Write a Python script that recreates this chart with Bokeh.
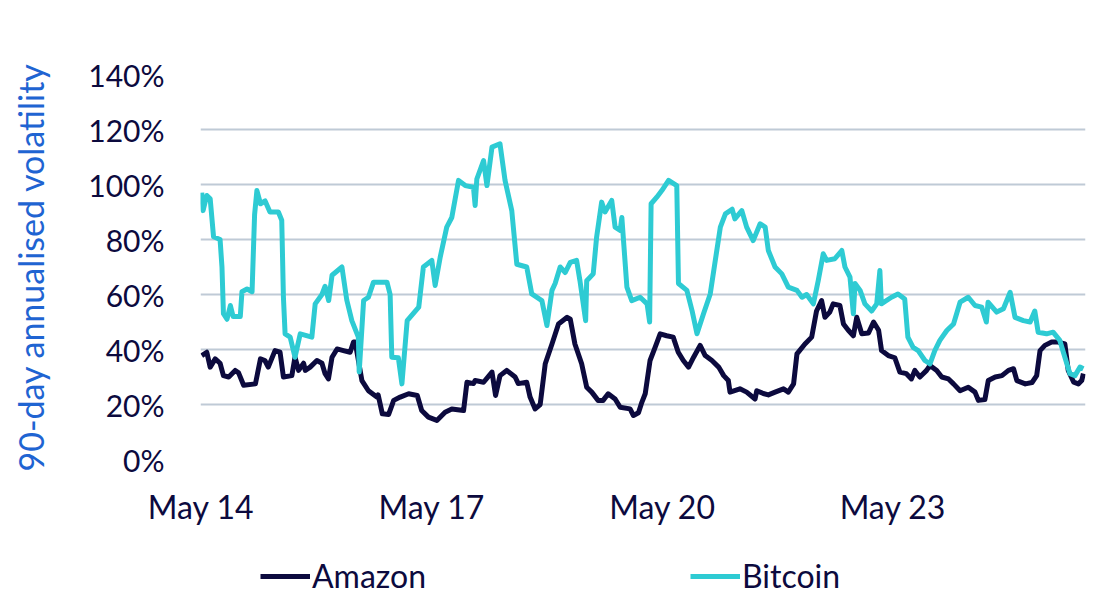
import pandas as pd
from datetime import datetime
from bokeh.plotting import figure
from bokeh.layouts import column
from bokeh.embed import file_html
from bokeh.resources import INLINE
from bokeh.models import ColumnDataSource, Range1d, FixedTicker, SingleIntervalTicker, \
    DatetimeTickFormatter, PrintfTickFormatter, Legend, LegendItem


# 90-day annualised volatility (%)
amazon_dates = [
    '2014-05-04', '2014-05-28', '2014-06-13', '2014-07-07', '2014-07-30', '2014-08-15', '2014-09-09',
    '2014-10-10', '2014-10-26', '2014-11-19', '2015-01-14', '2015-02-07', '2015-02-28', '2015-03-16',
    '2015-04-17', '2015-05-11', '2015-05-27', '2015-07-06', '2015-07-21', '2015-08-07', '2015-08-31',
    '2015-09-08', '2015-10-01', '2015-11-02', '2015-11-26', '2015-12-11', '2015-12-27', '2016-01-13',
    '2016-02-06', '2016-03-07', '2016-04-08', '2016-04-24', '2016-05-02', '2016-06-03', '2016-07-04',
    '2016-08-13', '2016-08-19', '2016-09-08', '2016-10-08', '2016-11-01', '2016-12-02', '2017-01-11',
    '2017-02-21', '2017-03-14', '2017-04-15', '2017-05-25', '2017-07-03', '2017-08-04', '2017-09-29',
    '2017-10-15', '2017-11-15', '2017-11-23', '2018-01-02', '2018-02-11', '2018-02-28', '2018-03-21',
    '2018-04-22', '2018-06-01', '2018-06-16', '2018-07-26', '2018-08-11', '2018-09-04', '2018-09-28',
    '2018-10-22', '2018-11-23', '2018-12-24', '2019-02-03', '2019-02-18', '2019-03-12', '2019-04-13',
    '2019-05-07', '2019-05-31', '2019-06-30', '2019-07-24', '2019-08-17', '2019-09-19', '2019-10-13',
    '2019-11-29', '2019-12-15', '2020-01-08', '2020-01-24', '2020-02-09', '2020-03-03', '2020-03-27',
    '2020-04-20', '2020-05-21', '2020-06-21', '2020-07-15', '2020-08-08', '2020-09-02', '2020-09-26',
    '2020-10-27', '2020-11-20', '2020-12-22', '2021-01-23', '2021-02-16', '2021-03-10', '2021-03-18',
    '2021-05-04', '2021-06-05', '2021-07-15', '2021-07-23', '2021-08-23', '2021-09-16', '2021-10-18',
    '2021-11-27', '2021-12-20', '2022-01-14', '2022-01-30', '2022-03-09', '2022-04-10', '2022-05-03',
    '2022-05-27', '2022-06-12', '2022-07-05', '2022-07-21', '2022-08-22', '2022-09-08', '2022-10-01',
    '2022-10-25', '2022-11-10', '2022-12-04', '2023-01-05', '2023-01-29', '2023-02-22', '2023-03-08',
    '2023-04-09', '2023-05-10', '2023-06-03', '2023-07-04', '2023-07-28', '2023-08-13', '2023-09-06',
    '2023-10-08', '2023-10-24', '2023-11-25', '2023-12-19', '2024-01-20', '2024-02-13', '2024-03-15',
    '2024-04-23', '2024-05-25', '2024-06-10', '2024-07-11', '2024-07-27', '2024-08-29', '2024-09-30',
    '2024-10-31', '2024-11-24', '2024-12-10', '2025-01-19', '2025-02-20', '2025-03-14', '2025-03-30',
    '2025-04-22', '2025-05-24', '2025-06-24', '2025-07-26', '2025-08-11', '2025-09-06', '2025-09-28',
    '2025-10-14', '2025-10-22']
amazon_vol = [
    37.8, 39, 33.6, 36.6, 35, 30.5, 30,
    32.4, 31.5, 27, 27.5, 36.6, 36, 33.6,
    39.6, 39, 30, 30.5, 37.2, 32.4, 35,
    32.4, 33.6, 36, 35, 31.2, 29.3, 37.2,
    40.2, 39.6, 39, 42.7, 42.7, 28.7, 25,
    22.7, 23.5, 16.6, 16.4, 21.5, 22.7, 23.9,
    23.3, 17.8, 15.4, 14.2, 17.2, 18.4, 17.8,
    28.1, 27.6, 28.7, 28.1, 31.8, 23.3, 30.5,
    32.4, 30, 27.6, 28.1, 22.7, 18.4, 20,
    34.8, 42, 49.3, 51.7, 51, 42, 34.8,
    26.3, 24.5, 21.5, 21.5, 23.9, 22, 19,
    18.4, 16, 17, 20.8, 23.9, 36, 40.8,
    45.7, 45, 44.5, 39, 36, 33.6, 37.2,
    41.5, 37.8, 36, 33.6, 30.5, 28.7, 24.5,
    25.7, 24.5, 22, 25, 24, 23.5, 24.5,
    25.7, 24.5, 27.5, 38.4, 42, 44.5, 54,
    57.8, 51.7, 53.6, 56.6, 56, 49.3, 47,
    45, 51.7, 45.7, 46, 50, 47, 39.6,
    37.8, 37, 31.8, 31.2, 29.3, 32.4, 30,
    32.4, 34.2, 32.4, 30, 29.3, 27.5, 25,
    26.3, 24.5, 21.5, 21.8, 28.7, 30, 30.5,
    32.4, 33, 28.7, 27.5, 28, 30.5, 39.6,
    41.5, 42.7, 42.7, 42, 32.4, 28.1, 27.5,
    28.7, 31.2]

bitcoin_dates = [
    '2014-05-04', '2014-05-10', '2014-05-28', '2014-06-13', '2014-06-29', '2014-07-30', '2014-08-08',
    '2014-08-15', '2014-09-01', '2014-09-17', '2014-09-30', '2014-11-03', '2014-11-11', '2014-12-05',
    '2014-12-29', '2015-01-10', '2015-01-21', '2015-02-07', '2015-03-01', '2015-03-24', '2015-05-03',
    '2015-05-19', '2015-05-27', '2015-06-04', '2015-06-28', '2015-07-21', '2015-08-15', '2015-10-09',
    '2015-10-25', '2015-11-26', '2015-12-11', '2015-12-28', '2016-01-13', '2016-02-29', '2016-03-23',
    '2016-04-16', '2016-05-17', '2016-05-21', '2016-06-11', '2016-07-04', '2016-07-28', '2016-09-30',
    '2016-10-15', '2016-10-23', '2016-11-23', '2016-12-10', '2017-01-04', '2017-02-28', '2017-03-22',
    '2017-05-01', '2017-05-17', '2017-06-10', '2017-07-11', '2017-08-04', '2017-09-05', '2017-10-07',
    '2017-11-15', '2017-11-23', '2017-12-01', '2018-01-02', '2018-01-18', '2018-02-11', '2018-03-21',
    '2018-04-14', '2018-05-16', '2018-06-09', '2018-07-26', '2018-08-19', '2018-10-06', '2018-10-30',
    '2018-11-23', '2018-12-08', '2019-01-01', '2019-01-25', '2019-02-18', '2019-03-20', '2019-04-05',
    '2019-05-02', '2019-05-07', '2019-06-07', '2019-06-23', '2019-07-17', '2019-08-02', '2019-09-03',
    '2019-09-19', '2019-10-13', '2019-10-21', '2019-11-14', '2019-12-07', '2020-01-16', '2020-02-18',
    '2020-03-01', '2020-03-08', '2020-04-04', '2020-04-28', '2020-05-30', '2020-07-08', '2020-07-16',
    '2020-08-25', '2020-09-19', '2020-10-12', '2020-11-12', '2020-12-14', '2021-01-07', '2021-01-31',
    '2021-02-24', '2021-03-28', '2021-04-10', '2021-05-13', '2021-06-05', '2021-07-06', '2021-08-08',
    '2021-09-01', '2021-09-16', '2021-10-18', '2021-11-19', '2021-12-20', '2022-01-30', '2022-02-23',
    '2022-03-17', '2022-04-18', '2022-05-11', '2022-06-04', '2022-06-20', '2022-07-29', '2022-08-31',
    '2022-09-15', '2022-10-09', '2022-10-25', '2022-11-02', '2022-11-26', '2022-12-19', '2023-01-20',
    '2023-02-13', '2023-02-28', '2023-03-07', '2023-04-24', '2023-05-25', '2023-06-26', '2023-07-11',
    '2023-08-05', '2023-08-29', '2023-09-30', '2023-10-24', '2023-11-16', '2023-12-10', '2024-01-12',
    '2024-02-13', '2024-03-15', '2024-04-23', '2024-05-25', '2024-06-26', '2024-07-18', '2024-07-26',
    '2024-09-05', '2024-10-07', '2024-11-08', '2024-12-01', '2025-01-10', '2025-02-11', '2025-03-05',
    '2025-03-21', '2025-04-30', '2025-05-31', '2025-07-02', '2025-07-26', '2025-08-19', '2025-09-12',
    '2025-10-06', '2025-10-22']
bitcoin_vol = [
    97, 90.5, 96, 94.8, 81, 80, 70,
    53, 51, 56, 52, 52, 61, 62,
    61, 89, 97.8, 93, 94, 90, 90,
    87, 59, 45.7, 44.5, 37.2, 45.7, 44.5,
    56.6, 60, 63, 57.8, 67, 70, 58,
    50.5, 44.5, 31.8, 57.8, 59, 64.5, 64.5,
    60, 37.2, 37, 27.5, 50.5, 55.4, 70,
    72.4, 63.3, 73.6, 84.5, 88, 101.5, 99.6,
    99, 92.4, 102, 108.7, 99.6, 113.6, 114.8,
    101.5, 90.5, 71, 70, 60.2, 57.8, 48.7,
    61.5, 64, 70, 68, 71.7, 72.4, 65,
    50.5, 65, 67.5, 80.8, 93.6, 90, 94.2,
    84.5, 83.3, 88, 62.7, 57.8, 59, 56.6,
    50, 93, 95.4, 97.8, 101.5, 99.6, 64,
    61.5, 54, 45.7, 53, 60.2, 72.4, 84.5,
    89.3, 91, 87.5, 90.5, 84.5, 79.6, 85.7,
    84.5, 76, 70, 67.5, 62.7, 61.5, 59,
    60, 56.6, 65, 74.8, 72.4, 73, 76,
    70, 66.3, 53, 64, 61.5, 56.6, 54,
    56.6, 68.7, 56.6, 59, 60.2, 58.4, 44.5,
    40.8, 39.6, 36, 34.8, 39.6, 43.3, 46.9,
    49.3, 57.2, 59, 56, 55.4, 50, 57.2,
    53.6, 54.8, 60.8, 51.7, 50.5, 50, 54,
    46.3, 45.7, 46.3, 43.3, 37.2, 31.2, 30.5,
    33.6, 33]

x_ticks = ['2014-05-01', '2017-05-01', '2020-05-01', '2023-05-01']

navy = '#0c0a3e'
cyan = '#2ecbd3'
font = 'Lato'

amazon = ColumnDataSource(data=dict(date=pd.to_datetime(amazon_dates), vol=amazon_vol))
bitcoin = ColumnDataSource(data=dict(date=pd.to_datetime(bitcoin_dates), vol=bitcoin_vol))

p = figure(width=1092, height=540,
           x_axis_type='datetime',
           x_range=Range1d(datetime(2014, 4, 28), datetime(2025, 11, 1)),
           y_range=Range1d(0, 140),
           toolbar_location=None,
           min_border_left=200, min_border_right=7,
           min_border_top=74, min_border_bottom=81)
p.output_backend = 'svg'
p.outline_line_color = None

p.xgrid.grid_line_color = None
p.ygrid.grid_line_color = '#bfcad6'
p.ygrid.grid_line_width = 2
p.ygrid.ticker = SingleIntervalTicker(interval=20)

p.yaxis.ticker = SingleIntervalTicker(interval=20)
p.yaxis.formatter = PrintfTickFormatter(format='%d%%')
p.yaxis.axis_label = '90-day annualised volatility'
p.yaxis.axis_label_text_color = '#1f64d2'
p.yaxis.axis_label_text_font = font
p.yaxis.axis_label_text_font_style = 'normal'
p.yaxis.axis_label_text_font_size = '34px'
p.yaxis.axis_label_standoff = 34
p.yaxis.major_label_standoff = 36
p.yaxis.major_label_text_font_size = '30px'

p.xaxis.ticker = FixedTicker(ticks=[pd.Timestamp(t).value // 10**6 for t in x_ticks])
p.xaxis.formatter = DatetimeTickFormatter(years='%b %y', months='%b %y', days='%b %y',
                                          hours='%b %y', minutes='%b %y')
p.xaxis.major_label_standoff = 27
p.xaxis.major_label_text_font_size = '32px'

for ax in (p.xaxis, p.yaxis):
    ax.axis_line_color = None
    ax.major_tick_line_color = None
    ax.minor_tick_line_color = None
    ax.major_tick_out = 0
    ax.minor_tick_out = 0
    ax.major_label_text_font = font
    ax.major_label_text_color = navy

p.line('date', 'vol', source=amazon, line_color=navy, line_width=5, line_join='round')
p.line('date', 'vol', source=bitcoin, line_color=cyan, line_width=5, line_join='round')

# legend strip under the chart (its frame lines up with the chart frame)
lg = figure(width=1092, height=55, x_range=Range1d(0, 1), y_range=Range1d(0, 1),
            x_axis_location=None, y_axis_location=None, toolbar_location=None,
            min_border=0, outline_line_color=None)
lg.output_backend = 'svg'
lg.grid.grid_line_color = None
nan = float('nan')
amz_key = lg.line(x=[nan], y=[nan], line_color=navy, line_width=5)
btc_key = lg.line(x=[nan], y=[nan], line_color=cyan, line_width=5)

legend = Legend(items=[LegendItem(label='Amazon', renderers=[amz_key]),
                       LegendItem(label='Bitcoin', renderers=[btc_key])],
                location=(60, 0), orientation='horizontal')
legend.border_line_color = None
legend.background_fill_alpha = 0
legend.padding = 0
legend.spacing = 0
legend.margin = 0
legend.glyph_width = 50
legend.glyph_height = 36
legend.label_height = 36
legend.label_width = 378
legend.label_standoff = 2
legend.label_text_font = font
legend.label_text_font_size = '32px'
legend.label_text_color = navy
lg.add_layout(legend, 'center')

open('out.html', 'w').write(file_html(column(p, lg), INLINE))
